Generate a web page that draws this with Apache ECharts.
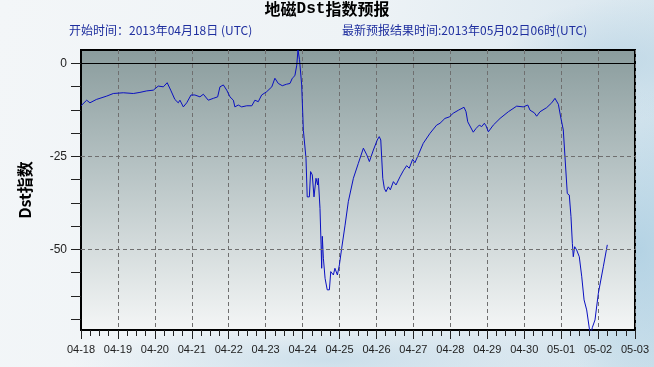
<!DOCTYPE html>
<html>
<head>
<meta charset="utf-8">
<script src="https://cdn.jsdelivr.net/npm/echarts@6/dist/echarts.min.js"></script>
<style>
html,body{margin:0;padding:0;}
body{width:654px;height:367px;overflow:hidden;
background:
 radial-gradient(ellipse 90px 160px at 640px 250px, rgba(170,205,225,0.75), rgba(170,205,225,0) 100%),
 radial-gradient(ellipse 120px 60px at 620px 60px, rgba(185,212,228,0.7), rgba(185,212,228,0) 100%),
 radial-gradient(ellipse 260px 40px at 330px 360px, rgba(190,215,230,0.7), rgba(190,215,230,0) 100%),
 linear-gradient(100deg,#f3f6f8 0%,#eef3f6 50%,#dfeaf1 80%,#cfe2ec 100%);}
#c{width:654px;height:367px;}
</style>
</head>
<body>
<div id="c"></div>
<script>
// hours since 2013-04-18 00:00 UTC
const hours = [0,3.7,5.8,10,16.7,21,27.5,34,38.3,42.7,47,50.2,53.5,56,58.3,61,63.2,64.3,66.5,68.7,71.5,74,77.3,79.5,82.7,86,88.8,90.3,92.5,94.7,96.8,99,100,102.2,104.4,107.7,111,113,115.2,117.4,120.7,124,126,128.2,130.8,133.6,135.8,137.3,139,140.2,141,142,143.4,144.5,146.2,147,148.4,149.2,150.3,151.4,152.7,153.8,154.2,155.3,156,156.4,156.8,157.5,158.6,160,161.4,162.3,164,165,166.6,167.9,169.4,171.6,173.7,177,180.2,183.5,185.7,187.4,190,192.5,193.8,194.8,196.1,197.1,198.2,199.7,201,203,204.7,207.3,209.4,211.6,213.3,215.5,217,219.2,222.4,226.8,231.1,233.3,236.5,239.3,241.9,245.2,248.9,250.2,251.3,252.4,254.9,256.7,258.8,260.4,262.1,263.2,264.7,267.9,272.3,277.7,283.1,287.4,290.3,291.8,292.9,294.6,296.1,298.3,302.6,305.9,308,310.2,311.7,313.4,314.5,316,317.3,318.4,319.3,319.9,320.8,322.1,323.8,325.4,326.9,328.6,330.3,331.2,332.3,334,336.2,339.4,342];
const dst = [-11.4,-9.9,-10.6,-9.7,-8.8,-8.1,-7.9,-8.1,-7.8,-7.4,-7.2,-6.1,-6.3,-5.2,-7.2,-9.7,-10.6,-9.9,-11.7,-10.6,-8.5,-8.5,-9,-8.3,-9.9,-9.4,-9,-6.3,-5.8,-7.2,-9,-9.9,-11.7,-11.2,-11.7,-11.4,-11.4,-9.9,-10.3,-8.5,-7.6,-6.3,-4,-5.4,-6,-5.6,-5.4,-4,-3.3,-0.5,3.6,1,-5.8,-18,-25.5,-35.9,-35.9,-29.1,-30,-35.9,-30.9,-32.7,-30.9,-39,-48.8,-55.1,-46.5,-52.4,-57.8,-60.9,-60.9,-56,-56.9,-55.1,-56.9,-54.2,-49.7,-43.5,-37.2,-30.9,-26.9,-22.8,-24.6,-26.4,-23.3,-20.6,-19.7,-20.6,-30.9,-33.6,-34.5,-33.2,-34,-31.8,-32.7,-30.5,-28.9,-27.5,-28.2,-25.8,-26.7,-24.6,-21.5,-18.8,-16.6,-16.1,-14.8,-14.4,-13.4,-12.6,-11.8,-13,-15.7,-16,-18.5,-17.5,-16.6,-17,-16.1,-16.8,-18.4,-16.6,-14.8,-13,-11.5,-11.7,-11.2,-12.6,-12.3,-13.3,-14.2,-13,-11.9,-10.6,-9.4,-11,-14.4,-17.9,-25.1,-35,-35.4,-41.2,-48.4,-52,-49.3,-50.2,-52,-57.4,-63.6,-66.3,-71.2,-73,-71,-69,-61.8,-54.7,-48.8];
const xTickLabels = ['04-18','04-19','04-20','04-21','04-22','04-23','04-24','04-25','04-26','04-27','04-28','04-29','04-30','05-01','05-02','05-03'];
const yTicks = [0,-6.25,-12.5,-18.75,-25,-31.25,-37.5,-43.75,-50,-56.25,-62.5,-68.75];
const yLabels = [0,-25,-50];
const yGridLines = [-25,-50];

const chart = echarts.init(document.getElementById('c'), null, {renderer:'canvas'});
const gridLineStyle = {color:'#6f6f6f', type:[4,3], width:1};
const tickStyle = {color:'#222', width:1};
chart.setOption({
  animation:false,
  backgroundColor:'transparent',
  title:[
    {text:'{a|地磁}{b|Dst}{a|指数预报}', left:'center', top:1, padding:0,
     textStyle:{rich:{
       a:{fontSize:16,fontWeight:'bold',color:'#000',fontFamily:'Noto Sans CJK SC'},
       b:{fontSize:16,fontWeight:'bold',color:'#000',fontFamily:'Liberation Mono'}}}},
    {text:'开始时间：2013年04月18日 (UTC)', left:69, top:24, padding:0,
     textStyle:{fontSize:12,fontWeight:'normal',color:'#1f2f9f',fontFamily:'Noto Sans CJK SC, Liberation Sans'}},
    {text:'最新预报结果时间:2013年05月02日06时(UTC)', left:342, top:24, padding:0,
     textStyle:{fontSize:12,fontWeight:'normal',color:'#1f2f9f',fontFamily:'Noto Sans CJK SC, Liberation Sans'}}
  ],
  grid:{left:81, right:19, top:50, bottom:37, show:true, borderColor:'#000', borderWidth:2,
    backgroundColor:{type:'linear',x:0,y:0,x2:0,y2:1,colorStops:[
      {offset:0,color:'#8a9c9d'},{offset:0.45,color:'#b9c5c6'},{offset:1,color:'#f4f6f6'}]}},
  xAxis:{type:'value', min:0, max:360, interval:24,
    axisLine:{show:true, onZero:false, lineStyle:{color:'#000', width:2}},
    axisTick:{show:true, length:9, lineStyle:tickStyle},
    minorTick:{show:true, splitNumber:4, length:6, lineStyle:tickStyle},
    splitLine:{show:true, lineStyle:gridLineStyle},
    axisLabel:{fontSize:11, color:'#222', margin:14, fontFamily:'Liberation Sans',
      showMinLabel:true, showMaxLabel:true,
      formatter:(v)=>xTickLabels[Math.round(v/24)]}},
  yAxis:{type:'value', min:-71.7, max:3.6,
    name:'Dst指数', nameLocation:'middle', nameGap:48,
    nameTextStyle:{fontSize:16, fontWeight:'bold', color:'#000', fontFamily:'Noto Sans CJK SC'},
    axisLine:{show:true, onZero:false, lineStyle:{color:'#000', width:2}},
    axisTick:{show:true, length:10, customValues:yTicks, lineStyle:tickStyle},
    axisLabel:{fontSize:12, color:'#222', margin:14, fontFamily:'Liberation Sans', customValues:yLabels},
    splitLine:{show:false}},
  series:[{type:'line', data:hours.map((h,i)=>[h,dst[i]]), showSymbol:false, symbol:'none',
    lineStyle:{color:'#0a10c0', width:1}, clip:true,
    markLine:{silent:true, symbol:'none', label:{show:false}, animation:false,
      data:[{yAxis:0, lineStyle:{color:'#000', type:'solid', width:1}}]
        .concat(yGridLines.map(v=>({yAxis:v, lineStyle:gridLineStyle})))}}]
});
</script>
</body>
</html>
